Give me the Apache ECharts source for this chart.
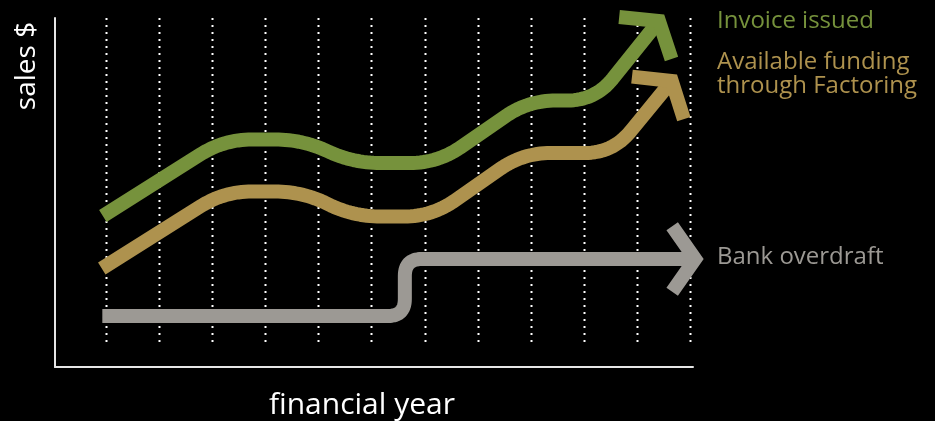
<!DOCTYPE html>
<html><head><meta charset="utf-8">
<script src="https://cdn.jsdelivr.net/npm/echarts@6/dist/echarts.min.js"></script>
<style>html,body{margin:0;padding:0;background:#000}#c{width:935px;height:421px}</style>
</head><body><div id="c"></div>
<script>
// ---- data (x: financial-year ticks, y: relative sales) ----
const yearTicks = [0,1,2,3,4,5,6,7,8,9,10,11];
const invoiceX   = [-0.05, 2.23, 3.71, 4.65, 6.25, 7.95, 9.21, 10.41];
const invoiceY   = [151, 227.5, 227.5, 204, 204, 266.5, 266.5, 346];
const factoringX = [-0.07, 2.23, 3.71, 4.65, 6.14, 7.85, 9.54, 10.65];
const factoringY = [98.5, 175.5, 175.5, 150.5, 150.5, 214, 214, 286];
const overdraftX = [-0.06, 5.63, 5.63, 11.09];
const overdraftY = [51, 51, 108, 108];
const seriesNames = ['Invoice issued', 'Available funding\nthrough Factoring', 'Bank overdraft'];
const axisNames = ['financial year', 'sales $'];

const FONT = '"Open Sans", "Noto Sans", sans-serif';
const GREEN = '#76923c', GOLD = '#ae924e', GRAY = '#9c9994';

function roundedPoints(p, r) {
  const out = [p[0]];
  for (let i = 1; i < p.length - 1; i++) {
    const a = p[i-1], b = p[i], c = p[i+1];
    const l1 = Math.hypot(b[0]-a[0], b[1]-a[1]), l2 = Math.hypot(c[0]-b[0], c[1]-b[1]);
    const d = Math.min(r, l1/2, l2/2);
    const s = [b[0]+(a[0]-b[0])*d/l1, b[1]+(a[1]-b[1])*d/l1];
    const e = [b[0]+(c[0]-b[0])*d/l2, b[1]+(c[1]-b[1])*d/l2];
    for (let k = 0; k <= 16; k++) {
      const t = k/16, u = 1-t;
      out.push([u*u*s[0]+2*u*t*b[0]+t*t*e[0], u*u*s[1]+2*u*t*b[1]+t*t*e[1]]);
    }
  }
  out.push(p[p.length-1]);
  return out;
}

function arrowSeries(name, xs, ys, color, radius, half, wing) {
  return {
    type: 'custom', name: name, clip: false, silent: true,
    data: xs.map((x, i) => [x, ys[i]]),
    renderItem: function (params, api) {
      if (params.dataIndex !== 0) return null;
      const pts = xs.map((x, i) => api.coord([x, ys[i]]));
      const body = roundedPoints(pts, radius);
      const A = pts[pts.length-1], P = pts[pts.length-2];
      const len = Math.hypot(A[0]-P[0], A[1]-P[1]);
      const bx = (P[0]-A[0])/len, by = (P[1]-A[1])/len;
      const rot = (t) => [A[0] + wing*(bx*Math.cos(t) - by*Math.sin(t)), A[1] + wing*(bx*Math.sin(t) + by*Math.cos(t))];
      return {
        type: 'group',
        children: [
          { type: 'polyline', shape: { points: body },
            style: { fill: null, stroke: color, lineWidth: 14, lineCap: 'butt', lineJoin: 'round' } },
          { type: 'polyline', shape: { points: [rot(half), A, rot(-half)] },
            style: { fill: null, stroke: color, lineWidth: 14, lineCap: 'butt', lineJoin: 'miter', miterLimit: 10 } }
        ]
      };
    }
  };
}

const dotSeries = {
  type: 'custom', silent: true, clip: false,
  data: yearTicks.map(x => [x]),
  renderItem: function (params, api) {
    const x = api.value(0);
    const top = api.coord([x, 349]), bot = api.coord([x, 24]);
    return { type: 'line', shape: { x1: Math.round(top[0]) + 0.5, y1: top[1], x2: Math.round(bot[0]) + 0.5, y2: bot[1] },
      style: { stroke: '#ffffff', lineWidth: 2, lineDash: [2, 5], lineCap: 'butt' } };
  }
};

const labelColors = [GREEN, GOLD, GRAY];
const labelYs = [[21], [62, 86], [257]];
const graphics = [];
seriesNames.forEach((n, i) => {
  n.split('\n').forEach((line, j) => {
    graphics.push({ type: 'text', x: 717, y: labelYs[i][j],
      style: { text: line, fill: labelColors[i], font: '24px ' + FONT, textAlign: 'left', textVerticalAlign: 'middle' } });
  });
});
graphics.push({ type: 'text', x: 362, y: 405,
  style: { text: axisNames[0], fill: '#ffffff', font: '30px ' + FONT, textAlign: 'center', textVerticalAlign: 'middle' } });
graphics.push({ type: 'text', x: 27, y: 66, rotation: Math.PI/2,
  style: { text: axisNames[1], fill: '#ffffff', font: '28px ' + FONT, textAlign: 'center', textVerticalAlign: 'middle' } });

const chart = echarts.init(document.getElementById('c'), null, { renderer: 'canvas' });
chart.setOption({
  backgroundColor: '#000000',
  animation: false,
  grid: { left: 55, right: 242, top: 18, bottom: 54 },
  xAxis: { type: 'value', min: -0.95, max: 11.05,
    axisLine: { show: true, onZero: false, lineStyle: { color: '#e6e6e6', width: 2 } },
    axisTick: { show: false }, axisLabel: { show: false }, splitLine: { show: false } },
  yAxis: { type: 'value', min: 0, max: 349,
    axisLine: { show: true, onZero: false, lineStyle: { color: '#e6e6e6', width: 2 } },
    axisTick: { show: false }, axisLabel: { show: false }, splitLine: { show: false } },
  series: [
    dotSeries,
    arrowSeries(seriesNames[2], overdraftX, overdraftY, GRAY, 17, 55*Math.PI/180, 40),
    arrowSeries(seriesNames[1], factoringX, factoringY, GOLD, 28, 57*Math.PI/180, 40),
    arrowSeries(seriesNames[0], invoiceX, invoiceY, GREEN, 28, 57*Math.PI/180, 40)
  ],
  graphic: graphics
});
</script></body></html>
